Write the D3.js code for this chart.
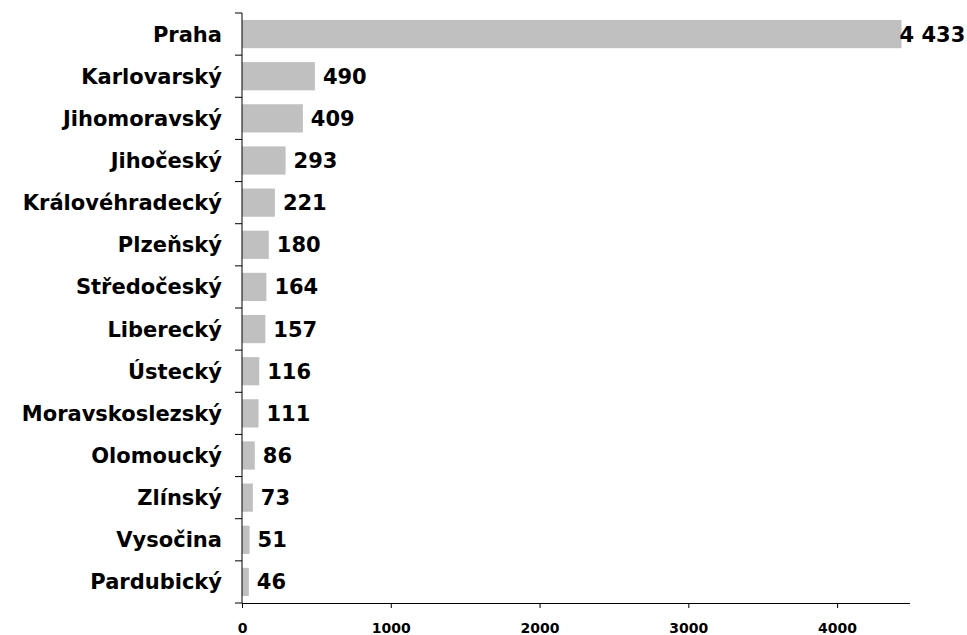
<!DOCTYPE html>
<html>
<head>
<meta charset="utf-8">
<script src="https://cdn.jsdelivr.net/npm/d3@7"></script>
<style>
  body { margin: 0; background: #fff; }
  svg { display: block; }
  .cat { font-family: "DejaVu Sans", Verdana, sans-serif; font-weight: bold; font-size: 21px; fill: #000; }
  .val { font-family: "DejaVu Sans", Verdana, sans-serif; font-weight: bold; font-size: 21px; fill: #000; }
  .axis text { font-family: "DejaVu Sans", Verdana, sans-serif; font-weight: bold; font-size: 14px; fill: #000; }
  .axis path, .axis line { stroke: #000; }
</style>
</head>
<body>
<svg width="967" height="635"></svg>
<script>
'use strict';
var regions = ["Praha", "Karlovarský", "Jihomoravský", "Jihočeský", "Královéhradecký", "Plzeňský",
  "Středočeský", "Liberecký", "Ústecký", "Moravskoslezský", "Olomoucký", "Zlínský", "Vysočina", "Pardubický"];
var counts = [4433, 490, 409, 293, 221, 180, 164, 157, 116, 111, 86, 73, 51, 46];
var tickValues = [0, 1000, 2000, 3000, 4000];

var svg = d3.select("svg"),
  margin = {top: 13, left: 242, right: 57, bottom: 32},
  width = +svg.attr("width") - margin.left - margin.right,
  height = +svg.attr("height") - margin.top - margin.bottom;

var x = d3.scaleLinear().domain([0, 4490]).range([0, width]),
    y = d3.scaleBand().domain(regions).range([0, height]).paddingInner(0.33).paddingOuter(0.165);

var g = svg.append("g").attr("transform", "translate(" + margin.left + "," + margin.top + ")");

var fmt = function(v) { return d3.format(",")(v).replace(/,/g, " "); };

g.selectAll(".bar")
  .data(counts)
  .enter().append("rect")
    .attr("class", "bar")
    .attr("x", 0)
    .attr("y", function(d, i) { return y(regions[i]); })
    .attr("width", function(d) { return x(d); })
    .attr("height", y.bandwidth())
    .attr("fill", "#c0c0c0");

// value labels; the long one would run off the page so it sits at the bar end
g.selectAll(".val")
  .data(counts)
  .enter().append("text")
    .attr("class", "val")
    .attr("x", function(d) { return x(d) + 80 > width + margin.right ? x(d) - 2 : x(d) + 8; })
    .attr("y", function(d, i) { return y(regions[i]) + y.bandwidth() / 2; })
    .attr("dy", "0.36em")
    .text(fmt);

// category labels
g.selectAll(".cat")
  .data(regions)
  .enter().append("text")
    .attr("class", "cat")
    .attr("x", -20)
    .attr("y", function(d) { return y(d) + y.bandwidth() / 2; })
    .attr("dy", "0.36em")
    .attr("text-anchor", "end")
    .text(function(d) { return d; });

// y axis line with ticks between categories
g.append("line").attr("x1", 0).attr("x2", 0).attr("y1", 0).attr("y2", height).attr("stroke", "#000");
g.selectAll(".ytick")
  .data(d3.range(regions.length + 1))
  .enter().append("line")
    .attr("class", "ytick")
    .attr("x1", -7).attr("x2", 0)
    .attr("y1", function(i) { return i * height / regions.length; })
    .attr("y2", function(i) { return i * height / regions.length; })
    .attr("stroke", "#000");

g.append("g")
  .attr("class", "axis")
  .attr("transform", "translate(0," + height + ")")
  .call(d3.axisBottom(x).tickValues(tickValues).tickFormat(d3.format("d")).tickSize(5).tickSizeOuter(0).tickPadding(15))
  .select(".domain").attr("d", "M0,0.5H" + width);
</script>
</body>
</html>
